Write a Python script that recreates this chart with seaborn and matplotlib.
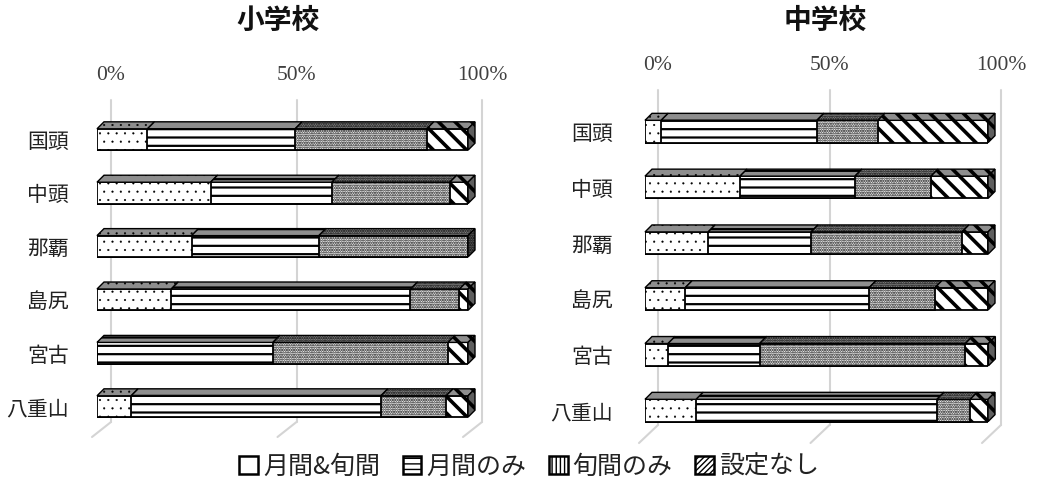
import numpy as np
import pandas as pd
import matplotlib
matplotlib.use("Agg")
import matplotlib.pyplot as plt
import seaborn as sns
from matplotlib.patches import Polygon, Patch
from matplotlib.transforms import ScaledTranslation, blended_transform_factory

# ---------------- data ----------------
regions = ['国頭', '中頭', '那覇', '島尻', '宮古', '八重山']
series = ['月間&旬間', '月間のみ', '旬間のみ', '設定なし']

elem_both = [13.6, 30.6, 25.5, 20.0, 0.0, 9.2]
elem_month = [39.8, 32.7, 34.3, 64.5, 47.4, 67.3]
elem_jun = [35.5, 31.8, 40.2, 13.2, 47.2, 17.6]
elem_none = [11.1, 4.9, 0.0, 2.3, 5.4, 5.9]

jhs_both = [4.7, 27.7, 18.4, 11.7, 6.7, 14.9]
jhs_month = [45.4, 33.5, 30.0, 53.6, 26.7, 70.2]
jhs_jun = [17.8, 22.2, 44.0, 19.2, 60.0, 9.7]
jhs_none = [32.1, 16.6, 7.6, 15.5, 6.7, 5.2]

xticks = [0, 50, 100]
xticklabels = ['0%', '50%', '100%']
titles = ['小学校', '中学校']

# ---------------- style ----------------
sns.set_theme(style="white")
plt.rcParams['font.family'] = ['Noto Sans CJK JP', 'DejaVu Sans']
plt.rcParams['hatch.linewidth'] = 1.0

hatches = ['..', '--', '.......', '\\\\']
hatch_lw = [0.3, 1.6, 1.1, 2.6]
legend_hatches = ['', '---', '||||', '//////']
top_color = '#8e8e8e'
side_color = '#5e5e5e'
grid_color = '#d4d4d4'

W, H = 1037, 486
fig = plt.figure(figsize=(W / 100, H / 100), dpi=100)

# axes boxes in pixels: left, right, top, bottom (front faces of bars)
boxes = [(97, 468, 112.8, 433.2), (645, 988, 103.6, 438.4)]
grid_geom = [  # grid offset x, grid top y, grid bottom y, floor dx, floor dy, ticklabel y
    (14, 100, 422, -19, 15, 75),
    (13, 90, 425, -19, 18, 65),
]
title_pos = [(278, 21), (825, 21)]
label_pad = [20, 23]

data_sets = [
    [elem_both, elem_month, elem_jun, elem_none],
    [jhs_both, jhs_month, jhs_jun, jhs_none],
]

def set_hlw(p, lw):
    if hasattr(p, 'set_hatch_linewidth'):
        p.set_hatch_linewidth(lw)

for a, (box, geom, vals) in enumerate(zip(boxes, grid_geom, data_sets)):
    l, r, t, b = box
    ax = fig.add_axes([l / W, 1 - b / H, (r - l) / W, (b - t) / H])
    arr = np.array(vals)                 # 4 x 6
    cum = np.cumsum(arr, axis=0)
    bar_h = 0.4

    # stacked bars: draw cumulative totals from the largest down
    for k in reversed(range(len(series))):
        with plt.rc_context({'hatch.linewidth': hatch_lw[k]}):
            n0 = len(ax.patches)
            df = pd.DataFrame({'region': regions, 'value': cum[k]})
            sns.barplot(data=df, x='value', y='region', orient='h', color='white',
                        saturation=1, edgecolor='black', linewidth=1.3,
                        width=bar_h, ax=ax, zorder=3)
            for p in ax.patches[n0:]:
                p.set_hatch(hatches[k])
                p.set_facecolor('white')
                set_hlw(p, hatch_lw[k])

    ax.set_xlim(0, 100)
    ax.set_ylim(len(regions) - 0.5, -0.5)

    # 3D depth (top faces and right side)
    px_per_x = (r - l) / 100.0
    px_per_y = (b - t) / len(regions)
    ddx = 7 / px_per_x
    ddy = 7 / px_per_y
    for i in range(len(regions)):
        ytop = i - bar_h / 2
        ybot = i + bar_h / 2
        last = None
        for k in range(len(series)):
            v = arr[k, i]
            if v <= 0:
                continue
            x1 = cum[k, i]
            x0 = x1 - v
            with plt.rc_context({'hatch.linewidth': hatch_lw[k]}):
                poly = Polygon([(x0, ytop), (x1, ytop), (x1 + ddx, ytop - ddy), (x0 + ddx, ytop - ddy)],
                               closed=True, facecolor=top_color, edgecolor='black',
                               linewidth=1.0, hatch=hatches[k], zorder=4, clip_on=False)
                set_hlw(poly, hatch_lw[k])
            ax.add_patch(poly)
            last = k
        xe = cum[-1, i]
        with plt.rc_context({'hatch.linewidth': hatch_lw[last]}):
            side = Polygon([(xe, ytop), (xe, ybot), (xe + ddx, ybot - ddy), (xe + ddx, ytop - ddy)],
                           closed=True, facecolor=side_color, edgecolor='black',
                           linewidth=1.0, hatch=hatches[last], zorder=4, clip_on=False)
            set_hlw(side, hatch_lw[last])
        ax.add_patch(side)

    # back wall gridlines with floor edge
    gdx, gtop, gbot, fdx, fdy, ty = geom
    btr = blended_transform_factory(ax.transData, fig.transFigure)
    off = btr + ScaledTranslation(gdx / 100, 0, fig.dpi_scale_trans)
    for xt, lab in zip(xticks, xticklabels):
        ax.plot([xt, xt], [1 - gtop / H, 1 - gbot / H], color=grid_color, lw=1.5,
                transform=off, clip_on=False, zorder=0)
        off2 = btr + ScaledTranslation((gdx + fdx) / 100, 0, fig.dpi_scale_trans)
        ax.annotate('', xy=(xt, 1 - (gbot + fdy) / H), xycoords=off2,
                    xytext=(xt, 1 - gbot / H), textcoords=off,
                    arrowprops=dict(arrowstyle='-', color=grid_color, lw=1.5,
                                    shrinkA=0, shrinkB=0), zorder=0)
        ax.text(xt, 1 - ty / H, lab, transform=off, ha='center', va='center',
                fontsize=15.5, color='#404040', family=['Liberation Serif', 'DejaVu Serif'])

    ax.set_xticks([])
    ax.set_xlabel('')
    ax.set_ylabel('')
    ax.tick_params(axis='y', length=0, pad=label_pad[a], labelsize=15, labelcolor='#222222')
    for s in ax.spines.values():
        s.set_visible(False)
    ax.patch.set_alpha(0)

    tx, tyy = title_pos[a]
    fig.text(tx / W, 1 - tyy / H, titles[a], ha='center', va='center',
             fontsize=20, fontweight='bold', color='#111111')

handles = []
for k in range(len(series)):
    with plt.rc_context({'hatch.linewidth': 0.8}):
        hp = Patch(facecolor='white', edgecolor='black', hatch=legend_hatches[k], linewidth=1.8)
        set_hlw(hp, 0.8)
    handles.append(hp)
fig.legend(handles, series, loc='center', bbox_to_anchor=(529 / W, 1 - 467 / H), ncol=4,
           frameon=False, handlelength=0.75, handleheight=0.75, handletextpad=0.2,
           columnspacing=0.9, fontsize=18, labelcolor='#222222')

fig.savefig('out.png', dpi=100)
